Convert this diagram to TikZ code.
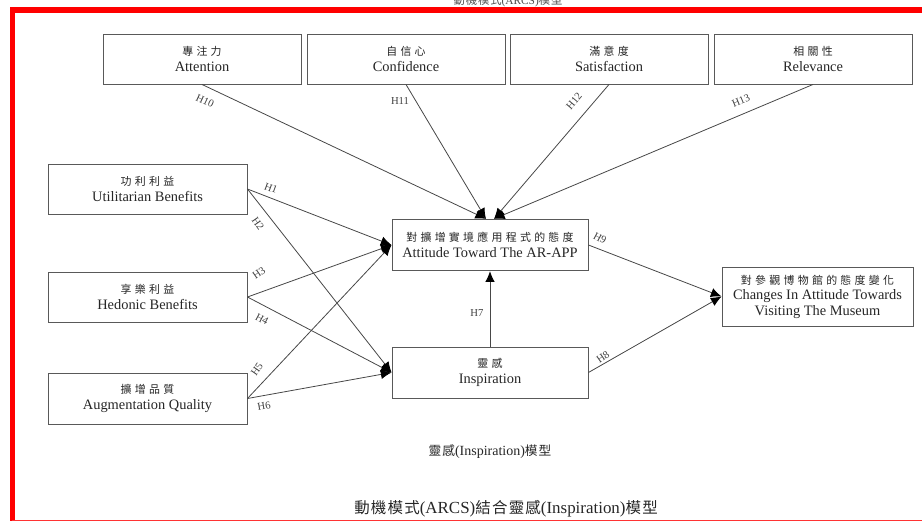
\documentclass[tikz,border=0pt]{standalone}
\usepackage{fontspec}
\setmainfont{Liberation Serif}
\newfontfamily\cjk{Noto Sans CJK TC}[LetterSpace=30]
\newfontfamily\cjkt{Noto Sans CJK TC}[LetterSpace=8]
\usetikzlibrary{arrows.meta}
\newcommand\zh[1]{{\cjk\fontsize{8.2}{12}\selectfont #1}}
\begin{document}
\begin{tikzpicture}[x=0.75pt,y=-0.75pt,
  box/.style={draw=black!65, line width=0.7pt, fill=white, inner sep=0pt, align=center,
    font=\fontsize{10.8}{12}\selectfont, text=black!85},
  topbox/.style={box, minimum width=148.5pt, minimum height=37.5pt},
  leftbox/.style={box, minimum width=149.25pt, minimum height=37.5pt},
  midbox/.style={box, minimum width=147pt, minimum height=38.5pt},
  conn/.style={draw=black!72, line width=0.6pt, -{Latex[length=8pt,width=7pt,color=black]}},
  hlab/.style={font=\fontsize{8}{9}\selectfont, text=black!75, inner sep=0pt}]
\useasboundingbox (0,0) rectangle (922,521);
% red frame
\draw[red, line width=4.3pt] (12.5,540) -- (12.5,10) -- (940,10);
\draw[red!80, line width=1pt] (12,520.5) -- (940,520.5);
% titles
\node[inner sep=0pt, text=black!70, font=\fontsize{8.5}{9}\selectfont] (ttop) at (508,1) {{\cjkt 動機模式}(ARCS){\cjkt 模型}};
\node[inner sep=0pt, text=black!85, font=\fontsize{10.5}{12}\selectfont] (tmid) at (490,452) {{\cjkt\fontsize{9.5}{12}\selectfont 靈感}(Inspiration){\cjkt\fontsize{9.5}{12}\selectfont 模型}};
\node[inner sep=0pt, text=black!85, font=\fontsize{12.7}{14}\selectfont] (tbot) at (506,509) {{\cjkt\fontsize{11.6}{14}\selectfont 動機模式}(ARCS){\cjkt\fontsize{11.6}{14}\selectfont 結合靈感}(Inspiration){\cjkt\fontsize{11.6}{14}\selectfont 模型}};
% top boxes
\node[topbox] (att) at (202,59) {\zh{專注力}\\Attention};
\node[topbox] (conf) at (406,59) {\zh{自信心}\\Confidence};
\node[topbox] (sat) at (609,59) {\zh{滿意度}\\Satisfaction};
\node[topbox] (rel) at (813,59) {\zh{相關性}\\Relevance};
% left boxes
\node[leftbox] (util) at (147.5,189) {\zh{功利利益}\\Utilitarian Benefits};
\node[leftbox] (hed) at (147.5,297) {\zh{享樂利益}\\Hedonic Benefits};
\node[leftbox, minimum height=38.25pt] (aug) at (147.5,398.5) {\zh{擴增品質}\\Augmentation Quality};
% middle boxes
\node[midbox] (attd) at (490,245) {\zh{對擴增實境應用程式的態度}\\Attitude Toward The AR-APP};
\node[midbox, minimum height=38.25pt] (insp) at (490,372.5) {\zh{靈感}\\Inspiration};
\node[box, minimum width=143.25pt, minimum height=44.25pt, font=\fontsize{10.8}{11.6}\selectfont] (chg) at (817.5,296.5)
  {\zh{對參觀博物館的態度變化}\\Changes In Attitude Towards\\Visiting The Museum};
% connectors
\draw[conn] (att.south) -- ([xshift=-3pt]attd.north);
\draw[conn] (conf.south) -- ([xshift=-3pt]attd.north);
\draw[conn] (sat.south) -- ([xshift=3pt]attd.north);
\draw[conn] (rel.south) -- ([xshift=3pt]attd.north);
\draw[conn] (util.east) -- (attd.west);
\draw[conn] (util.east) -- (insp.west);
\draw[conn] (hed.east) -- (attd.west);
\draw[conn] (hed.east) -- (insp.west);
\draw[conn] (aug.east) -- (attd.west);
\draw[conn] (aug.east) -- (insp.west);
\draw[conn] (insp.north) -- (attd.south);
\draw[conn] (attd.east) -- (chg.west);
\draw[conn] (insp.east) -- (chg.west);
% hypothesis labels
\node[hlab, rotate=-25] (h10) at (205,101) {H10};
\node[hlab] (h11) at (400,101) {H11};
\node[hlab, rotate=50] (h12) at (574,101) {H12};
\node[hlab, rotate=23] (h13) at (741,101) {H13};
\node[hlab, rotate=-20] (h1) at (271,188) {H1};
\node[hlab, rotate=-55] (h2) at (258,224) {H2};
\node[hlab, rotate=35] (h3) at (259,273) {H3};
\node[hlab, rotate=-28] (h4) at (262,319) {H4};
\node[hlab, rotate=55] (h5) at (257,369) {H5};
\node[hlab, rotate=10] (h6) at (264,406) {H6};
\node[hlab] (h7) at (477,313) {H7};
\node[hlab, rotate=35] (h8) at (603,357) {H8};
\node[hlab, rotate=-28] (h9) at (600,238) {H9};
\end{tikzpicture}
\end{document}
